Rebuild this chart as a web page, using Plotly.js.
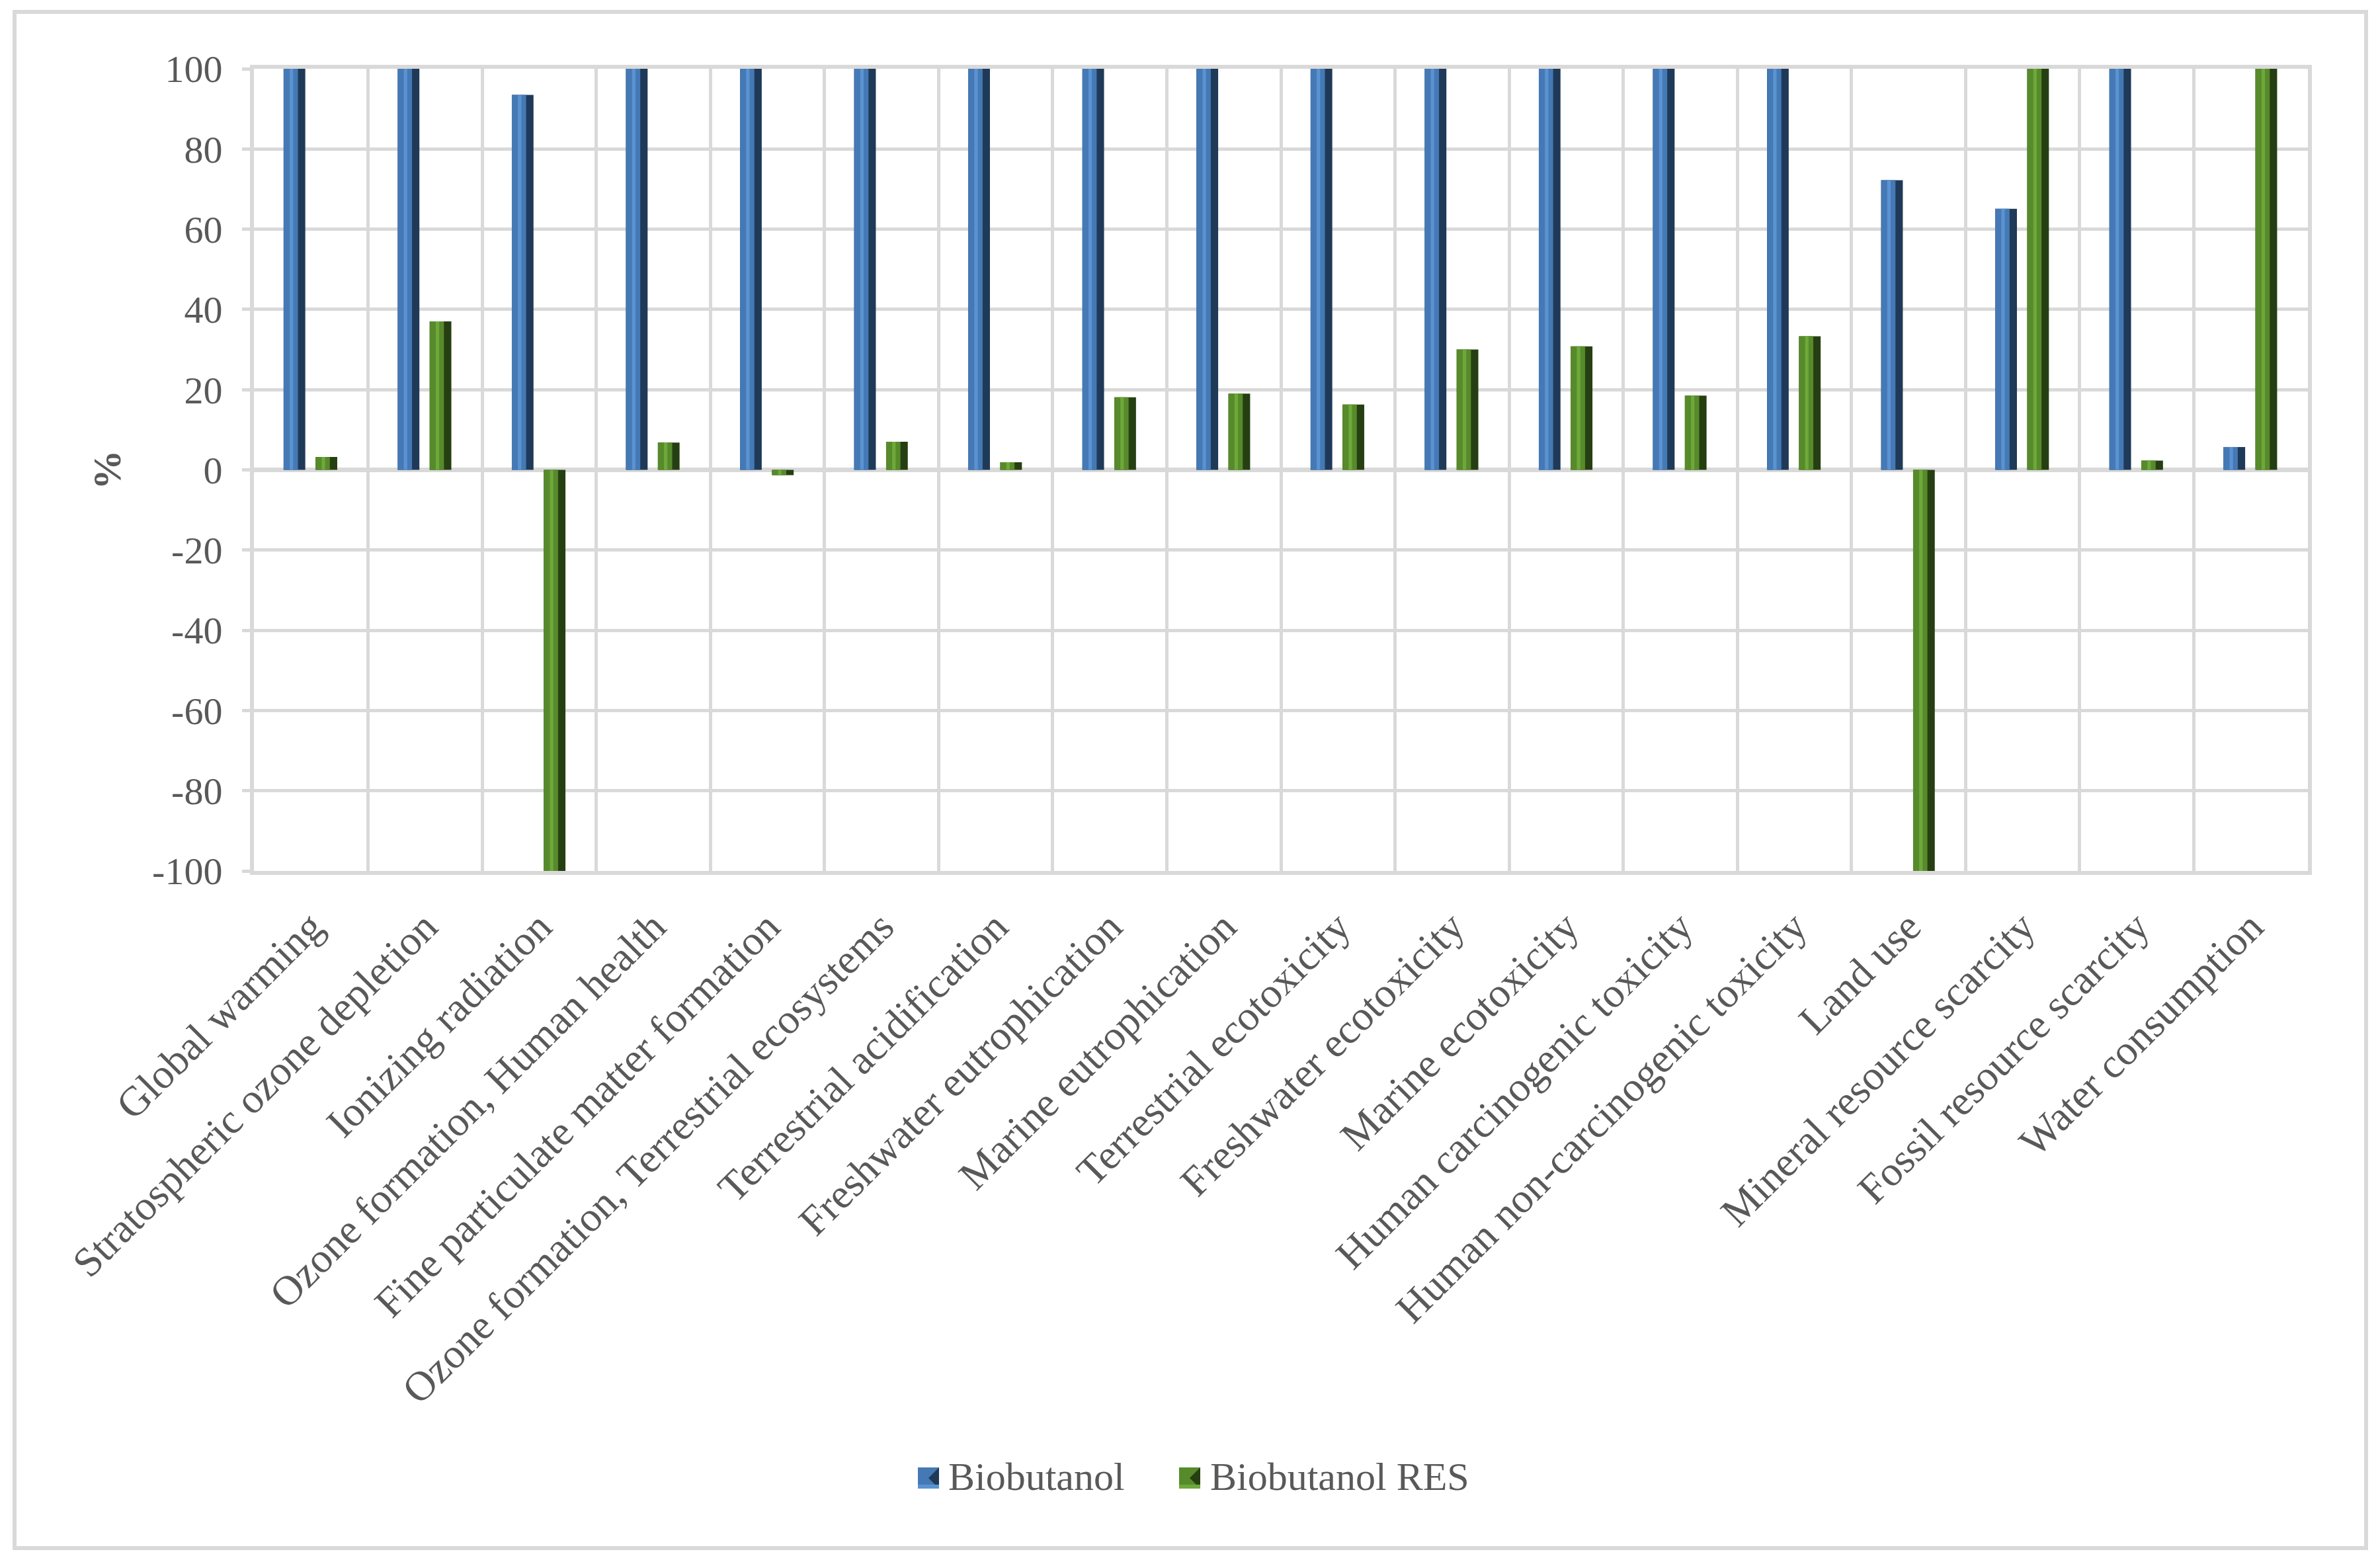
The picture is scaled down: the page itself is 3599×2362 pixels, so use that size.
<!DOCTYPE html>
<html>
<head>
<meta charset="utf-8">
<script src="https://cdn.plot.ly/plotly-3.0.1.min.js"></script>
<style>
  html, body { margin: 0; padding: 0; background: #ffffff; }
  #wrap { position: relative; width: 3599px; height: 2362px; }
  #chart { position: absolute; left: 0; top: 0; width: 3599px; height: 2362px; }
  #frame { position: absolute; left: 19px; top: 15px; width: 3550px; height: 2317px;
           border: 6px solid #d9d9d9; pointer-events: none; }
</style>
</head>
<body>
<div id="wrap">
  <div id="chart"></div>
  <div id="frame"></div>
</div>
<script>
// ---- data ----
const categories = [
  "Global warming",
  "Stratospheric ozone depletion",
  "Ionizing radiation",
  "Ozone formation, Human health",
  "Fine particulate matter formation",
  "Ozone formation, Terrestrial ecosystems",
  "Terrestrial acidification",
  "Freshwater eutrophication",
  "Marine eutrophication",
  "Terrestrial ecotoxicity",
  "Freshwater ecotoxicity",
  "Marine ecotoxicity",
  "Human carcinogenic toxicity",
  "Human non-carcinogenic toxicity",
  "Land use",
  "Mineral resource scarcity",
  "Fossil resource scarcity",
  "Water consumption"
];
const biobutanol = [100, 100, 93.5, 100, 100, 100, 100, 100, 100, 100, 100, 100, 100, 100, 72.2, 65.1, 100, 5.7];
const biobutanolRES = [3.2, 37.0, -100, 6.8, -1.3, 7.0, 1.9, 18.1, 19.0, 16.3, 30.0, 30.8, 18.5, 33.3, -100, 100, 2.3, 100];
const seriesNames = ["Biobutanol", "Biobutanol RES"];
const yTicks = [-100, -80, -60, -40, -20, 0, 20, 40, 60, 80, 100];

// ---- styling ----
const FONT = "Liberation Serif, Times New Roman, serif";
const TXT = "#595959";
const GRID = "#d9d9d9";
const BAR_W = 0.19;
const M = { l: 384, r: 109, t: 104, b: 1045 };
const W = 3599, H = 2362;
const PW = W - M.l - M.r, PH = H - M.t - M.b;
const px2x = px => (px - M.l) / PW;          // page px -> paper x
const px2y = py => (H - M.b - py) / PH;      // page px -> paper y

const series = [
  { name: seriesNames[0], y: biobutanol, off: -0.24,
    dark: "#1f3a58", main: "#4479b5", light: "#5b92d1",
    legSw: 1388, legTx: 1432 },
  { name: seriesNames[1], y: biobutanolRES, off: 0.04,
    dark: "#263f12", main: "#578a2b", light: "#6ea83a",
    legSw: 1783, legTx: 1828 }
];

const traces = [];
series.forEach(s => {
  // dark right side (bevel shadow)
  traces.push({ type: "bar", x: categories, y: s.y, name: s.name, legendgroup: s.name,
    showlegend: false, offset: s.off, width: BAR_W, hoverinfo: "skip",
    marker: { color: s.dark, line: { width: 0 } } });
  // main face
  traces.push({ type: "bar", x: categories, y: s.y, name: s.name, legendgroup: s.name,
    showlegend: false, offset: s.off, width: BAR_W * 0.66,
    marker: { color: s.main, line: { width: 0 } } });
  // highlight strip
  traces.push({ type: "bar", x: categories, y: s.y, name: s.name, legendgroup: s.name,
    showlegend: false, offset: s.off + BAR_W * 0.28, width: BAR_W * 0.16, hoverinfo: "skip",
    marker: { color: s.light, line: { width: 0 } } });
});

// legend drawn as swatches + labels (bevelled squares like the reference)
const shapes = [];
const annotations = [];
const SW = 32, LEG_CY = 2235;
series.forEach(s => {
  const x0 = s.legSw, x1 = s.legSw + SW, y0 = LEG_CY - SW / 2, y1 = LEG_CY + SW / 2;
  shapes.push({ type: "rect", xref: "paper", yref: "paper", layer: "above",
    x0: px2x(x0), x1: px2x(x1), y0: px2y(y1), y1: px2y(y0),
    fillcolor: s.main, line: { width: 0 } });
  // darker right-hand wedge (bevel)
  const xm = x0 + SW * 0.5;
  shapes.push({ type: "path", xref: "paper", yref: "paper", layer: "above",
    path: `M ${px2x(x1)} ${px2y(y0)} L ${px2x(xm)} ${px2y(LEG_CY)} L ${px2x(x1)} ${px2y(y1)} Z`,
    fillcolor: s.dark, line: { width: 0 } });
  // lighter bottom band
  shapes.push({ type: "rect", xref: "paper", yref: "paper", layer: "above",
    x0: px2x(x0), x1: px2x(x1), y0: px2y(y1), y1: px2y(y1 - 6),
    fillcolor: s.light, line: { width: 0 } });
  annotations.push({ xref: "paper", yref: "paper", x: px2x(s.legTx), y: px2y(LEG_CY - 2),
    xanchor: "left", yanchor: "middle", showarrow: false, text: s.name,
    font: { family: FONT, size: 60, color: TXT } });
});

const layout = {
  width: W, height: H,
  margin: { l: M.l, r: M.r, t: M.t, b: M.b, pad: 0 },
  paper_bgcolor: "#ffffff", plot_bgcolor: "#ffffff",
  barmode: "overlay",
  font: { family: FONT, color: TXT, size: 58 },
  xaxis: {
    type: "category", tickson: "boundaries",
    showgrid: true, gridcolor: GRID, gridwidth: 5,
    showline: true, linecolor: GRID, linewidth: 6, mirror: true,
    ticks: "", tickangle: -45, ticklabelstandoff: 16,
    tickfont: { family: FONT, size: 63, color: TXT },
    automargin: false
  },
  yaxis: {
    range: [-100, 100], tickvals: yTicks, ticktext: yTicks.map(String),
    showgrid: true, gridcolor: GRID, gridwidth: 5,
    zeroline: true, zerolinecolor: GRID, zerolinewidth: 7,
    showline: true, linecolor: GRID, linewidth: 6, mirror: true,
    ticks: "outside", ticklen: 12, tickwidth: 5, tickcolor: GRID,
    ticklabelstandoff: 18,
    tickfont: { family: FONT, size: 58, color: TXT },
    title: { text: "<b>%</b>", font: { family: FONT, size: 60, color: TXT }, standoff: 30 },
    automargin: false
  },
  showlegend: false,
  shapes: shapes,
  annotations: annotations
};

Plotly.newPlot("chart", traces, layout, { staticPlot: true, displayModeBar: false });
</script>
</body>
</html>
